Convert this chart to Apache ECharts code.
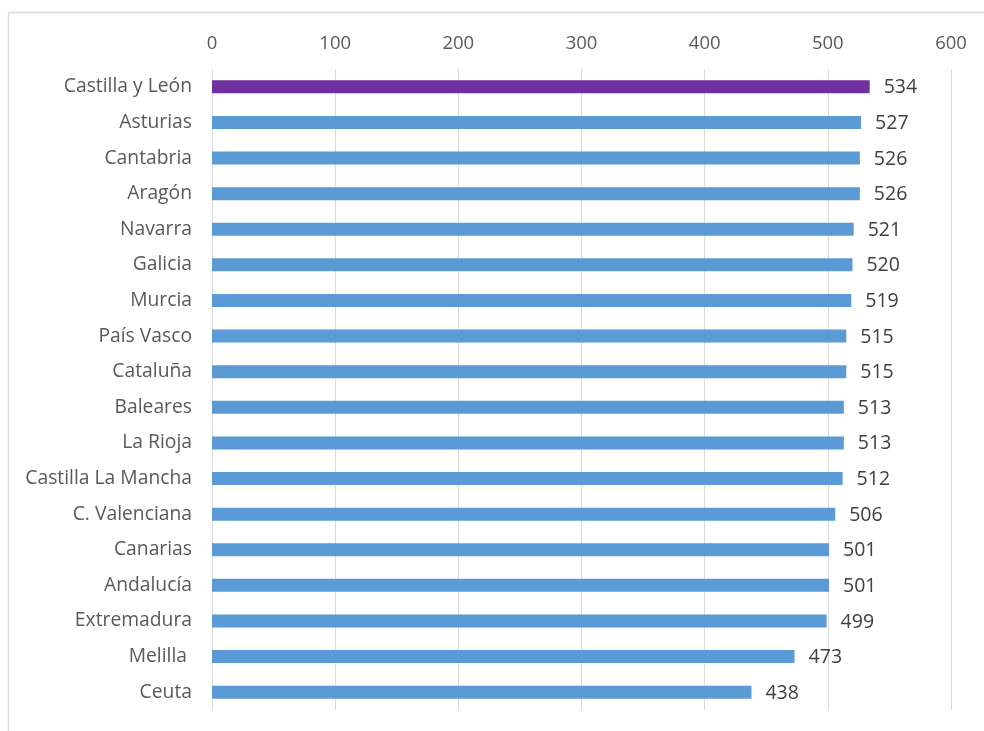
<!DOCTYPE html>
<html>
<head>
<meta charset="utf-8">
<script src="https://cdn.jsdelivr.net/npm/echarts@6/dist/echarts.min.js"></script>
<style>html,body{margin:0;padding:0;background:#fff}#c{width:984px;height:731px}</style>
</head>
<body>
<div id="c"></div>
<script>
const categories = ["Castilla y León","Asturias","Cantabria","Aragón","Navarra","Galicia","Murcia","País Vasco","Cataluña","Baleares","La Rioja","Castilla La Mancha","C. Valenciana","Canarias","Andalucía","Extremadura","Melilla ","Ceuta"];
const values = [534,527,526,526,521,520,519,515,515,513,513,512,506,501,501,499,473,438];
const highlight = "Castilla y León";
const axisMin = 0, axisMax = 600, axisStep = 100;

const chart = echarts.init(document.getElementById('c'), null, {renderer:'canvas'});
const font = "'Open Sans', sans-serif";
chart.setOption({
  animation:false,
  backgroundColor:'#fff',
  graphic:[{type:'polyline', shape:{points:[[8.5,740],[8.5,12.5],[1000,12.5]]}, style:{stroke:'#d9d9d9', lineWidth:1.5, fill:null}, silent:true}],
  grid:{left:212, right:33, top:69, bottom:21, containLabel:false},
  xAxis:{type:'value', position:'top', min:axisMin, max:axisMax, interval:axisStep,
    axisLine:{show:false}, axisTick:{show:false},
    axisLabel:{color:'#595959', fontSize:18.5, fontFamily:font, margin:16},
    splitLine:{show:true, lineStyle:{color:'#d9d9d9', width:1}}},
  yAxis:{type:'category', inverse:true, data:categories,
    axisLine:{show:false}, axisTick:{show:false},
    axisLabel:{color:'#595959', fontSize:19.3, fontFamily:font, margin:20, padding:[2,0,0,0]}},
  series:[{type:'bar', barWidth:13,
    data:values.map((v,i)=>({value:v, itemStyle:{color: categories[i]===highlight ? '#7030A0' : '#5B9BD5'}})),
    label:{show:true, position:'right', distance:14, color:'#404040', fontSize:19.5, fontFamily:font, offset:[0,1]}}]
});
</script>
</body>
</html>
